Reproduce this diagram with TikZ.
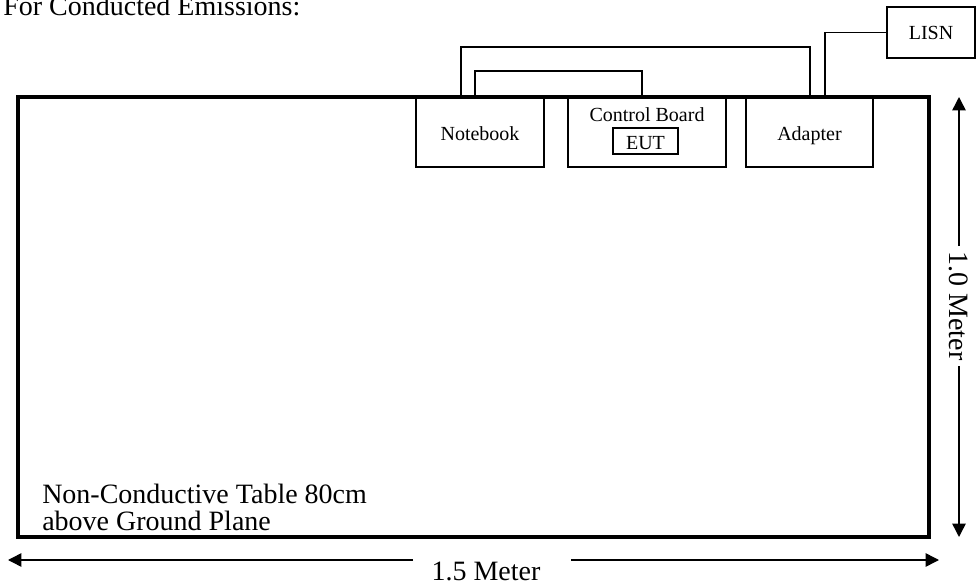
\documentclass[tikz,border=0pt]{standalone}
\usepackage{fontspec}
\setmainfont{Liberation Serif}
\usetikzlibrary{arrows.meta,calc}
\begin{document}
\begin{tikzpicture}[x=0.75pt,y=-0.75pt,
  lbl/.style={font=\fontsize{15}{18}\selectfont, inner sep=0},
  big/.style={font=\fontsize{21}{25}\selectfont, inner sep=0},
  box/.style={draw, line width=1.1pt, inner sep=0, outer sep=0, anchor=north west, minimum height=52.5pt},
  wire/.style={line width=1.1pt},
  dim/.style={line width=1.1pt, -{Triangle[length=10pt,width=10pt]}}
]
\useasboundingbox (0,0) rectangle (976,585);

% table
\node[draw, line width=3pt, inner sep=0, outer sep=0, anchor=north west,
      minimum width=683.25pt, minimum height=330pt] (table) at (18,97) {};

% equipment boxes
\node[box, minimum width=96pt] (nb) at (416,97) {};
\node[box, minimum width=118.5pt] (cb) at (568,97) {};
\node[box, minimum width=95.25pt] (ad) at (746,97) {};
\node[box, line width=1.6pt, minimum width=48.75pt, minimum height=19.5pt] (eut) at (613,128) {};
\node[box, minimum width=66pt, minimum height=38.25pt] (lisn) at (887,7) {};

% labels
\node[lbl, anchor=base] (nbt) at ($(nb.north)+(0,44)$) {Notebook};
\node[lbl, anchor=base] (cbt) at ($(cb.north)+(0,25)$) {Control Board};
\node[lbl, anchor=base] (eutt) at ($(eut.north)+(0,22)$) {EUT};
\node[lbl, anchor=base] (adt) at ($(ad.north)+(0,44)$) {Adapter};
\node[lbl, anchor=base] (lisnt) at ($(lisn.north)+(0,33)$) {LISN};

% wires
\draw[wire] ($(nb.north)+(-5,0)$) -- ++(0,-26) -| ($(cb.north)+(-5,0)$);
\draw[wire] ($(nb.north)+(-19,0)$) -- ++(0,-50) -| ($(ad.north)+(0.5,0)$);
\draw[wire] ($(ad.north)+(15.5,0)$) |- (lisn.west);

% texts
\node[big, anchor=base west] (title) at (3,16) {For Conducted Emissions:};
\node[big, anchor=base west] (tt1) at (42,503) {Non-Conductive Table 80cm};
\node[big, anchor=base west] (tt2) at (42,530) {above Ground Plane};

% dimension arrows
\coordinate (vtop) at (959,97);
\coordinate (vbot) at (959,537);
\coordinate (vg1) at (959,246);
\coordinate (vg2) at (959,366);
\draw[dim] (vg1) -- (vtop);
\draw[dim] (vg2) -- (vbot);
\node[big, rotate=-90] (vlab) at (959,306) {1.0 Meter};

\coordinate (hl) at (8,560);
\coordinate (hr) at (939,560);
\coordinate (hg1) at (413,560);
\coordinate (hg2) at (571,560);
\draw[dim] (hg1) -- (hl);
\draw[dim] (hg2) -- (hr);
\node[big, anchor=base] (hlab) at (486,580) {1.5 Meter};
\end{tikzpicture}
\end{document}
